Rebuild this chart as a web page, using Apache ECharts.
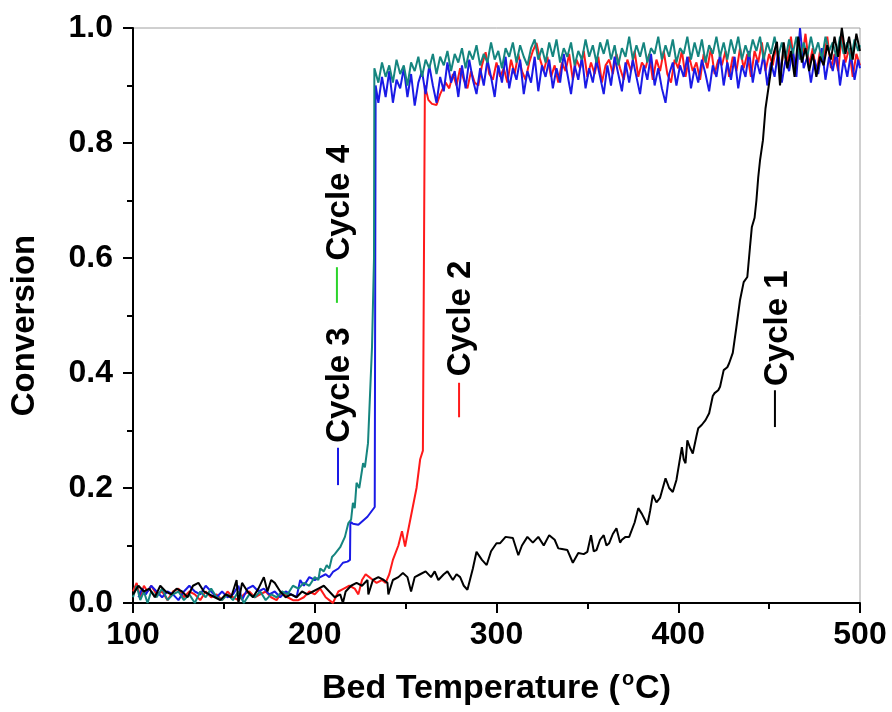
<!DOCTYPE html>
<html><head><meta charset="utf-8">
<script src="https://cdn.jsdelivr.net/npm/echarts@6/dist/echarts.min.js"></script>
<style>html,body{margin:0;padding:0;background:#fff}#c{width:892px;height:712px}</style>
</head><body><div id="c"></div>
<script>
// Bed temperature (°C) vs conversion, per cycle: [temperature, conversion]
const cycle1 = [
[100,0.015],[103,0.03],[106,0.02],[109,0.025],[112,0.01],[115,0.03],[118,0.02],[121,0.015],[124,0.025],[127,0.02],
[130,0.01],[133,0.03],[136,0.035],[139,0.02],[142,0.015],[145,0.01],[148,0.005],[151,0.015],[154,0.01],[157,0.04],
[158,0.0],[160,0.035],[163,0.02],[166,0.01],[169,0.025],[172,0.045],[174,0.02],[176,0.04],[178,0.035],[181,0.02],
[184,0.01],[187,0.015],[190,0.01],[193,0.02],[196,0.015],[199,0.02],[202,0.025],[205,0.03],[208,0.02],[211,0.01],
[214,0.015],[215.5,0.0],[217,0.02],[220,0.03],[223,0.035],[226,0.03],[229,0.04],[229.5,0.015],[232,0.04],[235,0.045],
[238,0.04],[240,0.035],[240.5,0.015],[243,0.04],[246,0.045],[248.5,0.052],[251,0.045],[253,0.02],[255,0.045],[258,0.05],
[261,0.055],[264,0.045],[266,0.055],[268,0.04],[271,0.05],[273,0.055],[276,0.04],[278,0.05],[280,0.045],[282,0.03],
[284,0.023],[287,0.06],[289,0.089],[292,0.075],[294.6,0.066],[297,0.09],[300,0.104],[302,0.104],[305,0.115],[309,0.113],
[312,0.083],[314,0.1],[317,0.115],[320,0.105],[323,0.115],[326,0.1],[329,0.118],[332,0.11],[334,0.095],[336,0.094],
[339,0.092],[342,0.07],[345,0.087],[348,0.085],[350,0.089],[352,0.118],[353.5,0.09],[355,0.092],[357,0.11],[359,0.118],
[360.5,0.1],[362,0.104],[364,0.12],[366,0.13],[368,0.105],[369,0.11],[371,0.115],[373,0.115],[376,0.14],[378,0.165],
[380,0.155],[383,0.136],[384.5,0.16],[386,0.188],[388,0.175],[390,0.183],[393,0.217],[395,0.2],[397,0.193],[399,0.214],
[402,0.271],[403,0.25],[404,0.243],[405,0.283],[406.5,0.27],[408,0.26],[410,0.29],[411,0.304],[413,0.31],[415,0.318],
[417,0.33],[419,0.36],[420,0.365],[422,0.37],[423,0.376],[425,0.405],[427,0.41],[428,0.417],[430,0.435],[432,0.48],
[434,0.527],[436,0.558],[438,0.567],[439.5,0.62],[440.5,0.654],[442,0.67],[443,0.70],[444,0.74],[445,0.77],[446.6,0.805],
[448,0.86],[450.5,0.915],[452,0.95],[454.3,0.976],[456,0.90],[458,0.975],[460,0.93],[462,0.96],[464,0.915],[466,0.985],
[468,0.94],[470,0.965],[472,0.925],[474,0.955],[476,0.915],[478,0.95],[480,0.935],[482,0.97],[484,0.945],[486,0.985],
[488,0.95],[490,1.0],[492,0.955],[494,0.985],[496,0.945],[498,0.99],[500,0.96]
];
const cycle2 = [
[100,0.02],[102,0.035],[104,0.01],[106,0.03],[108,0.02],[110,0.03],[113,0.015],[116,0.02],[119,0.005],[122,0.02],
[125,0.025],[128,0.01],[131,0.02],[134,0.015],[137,0.005],[140,0.02],[143,0.01],[146,0.015],[149,0.005],[152,0.02],
[155,0.01],[158,0.005],[161,0.015],[164,0.02],[167,0.01],[170,0.015],[173,0.02],[176,0.01],[179,0.005],[182,0.02],
[185,0.01],[188,0.005],[191,0.005],[194,0.01],[197,0.02],[200,0.015],[203,0.025],[206,0.01],[208,0.005],[210,0.0],
[213,0.02],[216,0.025],[219,0.03],[222,0.025],[224,0.015],[226,0.04],[228,0.05],[230,0.045],[232,0.04],[234,0.035],
[237,0.04],[239,0.035],[241,0.05],[243,0.075],[246,0.1],[248,0.125],[249.7,0.098],[251,0.12],[253.5,0.16],[256,0.2],
[258,0.25],[259.5,0.265],[260.6,0.9],[262.5,0.875],[264.5,0.868],[267,0.866],[269,0.885],[272,0.905],[274,0.895],[276,0.92],
[278,0.9],[280,0.93],[282,0.91],[284,0.895],[286,0.925],[288,0.905],[290,0.9],[292,0.935],[294,0.958],[296,0.92],
[298,0.91],[300,0.94],[302,0.915],[304,0.93],[306,0.905],[308,0.945],[310,0.92],[312,0.955],[314,0.925],[316,0.91],
[318,0.94],[320,0.96],[322,0.974],[324,0.945],[326,0.925],[328,0.95],[330,0.915],[332,0.935],[334,0.905],[336,0.94],
[338,0.925],[340,0.955],[342,0.91],[344,0.945],[346,0.93],[348,0.96],[350,0.915],[352,0.94],[354,0.92],[356,0.95],
[358,0.905],[360,0.935],[362,0.945],[364,0.92],[366,0.955],[368,0.93],[370,0.91],[372,0.945],[374,0.925],[376,0.96],
[378,0.915],[380,0.94],[382,0.93],[384,0.955],[386,0.91],[388,0.945],[390,0.925],[392,0.96],[394,0.92],[396,0.905],
[398,0.945],[400,0.93],[402,0.96],[404,0.915],[406,0.95],[408,0.925],[410,0.94],[412,0.91],[414,0.955],[416,0.93],
[418,0.965],[420,0.92],[422,0.945],[424,0.935],[426,0.96],[428,0.915],[430,0.95],[432,0.925],[434,0.965],[436,0.93],
[438,0.955],[440,0.915],[442,0.96],[444,0.94],[446,0.975],[448,0.925],[450,0.955],[452,0.935],[454,0.97],[456,0.92],
[458,0.96],[460,0.94],[462,0.985],[464,0.93],[466,0.96],[468,0.945],[470,0.99],[472,0.935],[474,0.965],[476,0.92],
[478,0.96],[480,0.945],[482,0.985],[484,0.93],[486,0.955],[488,0.925],[490,0.99],[492,0.94],[494,0.965],[496,0.915],
[498,0.955],[500,0.935]
];
const cycle3 = [
[103,0.01],[105,0.025],[107,0.015],[110,0.03],[113,0.02],[116,0.01],[119,0.02],[122,0.015],[125,0.005],[128,0.02],
[131,0.03],[134,0.02],[137,0.015],[140,0.03],[143,0.02],[146,0.01],[149,0.02],[152,0.01],[155,0.015],[158,0.03],
[160,0.005],[163,0.025],[166,0.03],[169,0.02],[172,0.025],[175,0.015],[178,0.02],[181,0.01],[184,0.02],[187,0.015],
[190,0.01],[192,0.04],[194,0.03],[197,0.045],[200,0.04],[203,0.045],[206,0.05],[208,0.045],[210,0.054],[213,0.06],
[215.5,0.07],[218,0.072],[219.4,0.075],[219.6,0.141],[221,0.138],[224,0.136],[229,0.15],[233,0.167],[233.5,0.9],[235,0.87],
[237,0.915],[239,0.88],[241,0.925],[243,0.87],[245,0.91],[247,0.895],[249,0.93],[251,0.88],[253,0.92],[255,0.865],
[257,0.905],[259,0.925],[261,0.885],[263,0.935],[265,0.9],[267,0.87],[269,0.915],[271,0.89],[273,0.94],[275,0.905],
[277,0.925],[279,0.88],[281,0.935],[283,0.895],[285,0.945],[287,0.91],[289,0.885],[291,0.93],[293,0.9],[295,0.945],
[297,0.915],[299,0.88],[301,0.935],[303,0.905],[305,0.95],[307,0.895],[309,0.93],[311,0.91],[313,0.945],[315,0.885],
[317,0.925],[319,0.905],[321,0.95],[323,0.89],[325,0.935],[327,0.915],[329,0.945],[331,0.895],[333,0.93],[335,0.905],
[337,0.955],[339,0.92],[341,0.885],[343,0.935],[345,0.91],[347,0.95],[349,0.895],[351,0.93],[353,0.905],[355,0.945],
[357,0.915],[359,0.885],[361,0.935],[363,0.9],[365,0.95],[367,0.92],[369,0.89],[371,0.94],[373,0.905],[375,0.945],
[377,0.915],[379,0.885],[381,0.935],[383,0.91],[385,0.955],[387,0.9],[389,0.93],[391,0.895],[393,0.87],[395,0.92],
[397,0.94],[399,0.9],[401,0.935],[403,0.915],[405,0.95],[407,0.895],[409,0.93],[411,0.905],[413,0.945],[415,0.92],
[417,0.89],[419,0.935],[421,0.915],[423,0.955],[425,0.9],[427,0.94],[429,0.91],[431,0.95],[433,0.895],[435,0.935],
[437,0.915],[439,0.96],[441,0.905],[443,0.945],[445,0.92],[447,0.955],[449,0.9],[451,0.94],[453,0.915],[455,0.96],
[457,0.905],[459,0.945],[461,0.925],[463,0.965],[465,0.915],[467,1.0],[469,0.93],[471,0.95],[473,0.905],[475,0.945],
[477,0.92],[479,0.965],[481,0.91],[483,0.95],[485,0.925],[487,0.96],[489,0.9],[491,0.945],[493,0.915],[495,0.955],
[497,0.91],[499,0.945],[500,0.93]
];
const cycle4 = [
[100,0.01],[102,0.03],[104,0.005],[106,0.02],[108,0.0],[110,0.02],[113,0.01],[116,0.025],[119,0.005],[122,0.015],
[125,0.02],[128,0.005],[131,0.015],[134,0.0],[137,0.02],[140,0.01],[143,0.025],[146,0.01],[149,0.005],[152,0.015],
[155,0.005],[158,0.02],[161,0.0],[164,0.015],[167,0.01],[170,0.02],[173,0.005],[176,0.015],[179,0.01],[182,0.02],
[185,0.015],[188,0.03],[191,0.025],[194,0.035],[197,0.03],[200,0.045],[202,0.04],[203,0.06],[205,0.055],[206.6,0.066],
[208,0.06],[209.5,0.08],[211,0.085],[214,0.097],[216.6,0.115],[218.5,0.139],[220,0.145],[221,0.174],[222,0.165],[223,0.209],
[224.5,0.2],[226.6,0.243],[227.6,0.236],[229.3,0.278],[231.5,0.445],[232.6,0.6],[232.8,0.93],[235,0.905],[237,0.94],[239,0.915],
[241,0.935],[243,0.905],[245,0.945],[247,0.92],[249,0.935],[251,0.9],[253,0.94],[255,0.925],[257,0.95],[259,0.915],
[261,0.945],[263,0.93],[265,0.955],[267,0.92],[269,0.95],[271,0.935],[273,0.96],[275,0.925],[277,0.955],[279,0.94],
[281,0.965],[283,0.93],[285,0.96],[287,0.945],[289,0.97],[291,0.935],[293,0.955],[295,0.94],[297,0.975],[299,0.945],
[301,0.96],[303,0.93],[305,0.965],[307,0.95],[309,0.975],[311,0.94],[313,0.97],[315,0.95],[317,0.935],[319,0.965],
[321,0.98],[323,0.945],[325,0.965],[327,0.94],[329,0.975],[331,0.95],[333,0.98],[335,0.94],[337,0.965],[339,0.95],
[341,0.975],[343,0.935],[345,0.96],[347,0.945],[349,0.98],[351,0.95],[353,0.97],[355,0.94],[357,0.975],[359,0.955],
[361,0.98],[363,0.945],[365,0.97],[367,0.935],[369,0.965],[371,0.95],[373,0.985],[375,0.945],[377,0.97],[379,0.95],
[381,0.975],[383,0.94],[385,0.965],[387,0.955],[389,0.985],[391,0.945],[393,0.97],[395,0.95],[397,0.98],[399,0.94],
[401,0.965],[403,0.955],[405,0.985],[407,0.945],[409,0.975],[411,0.95],[413,0.98],[415,0.94],[417,0.97],[419,0.955],
[421,0.985],[423,0.95],[425,0.975],[427,0.945],[429,0.98],[431,0.955],[433,0.985],[435,0.945],[437,0.97],[439,0.95],
[441,0.98],[443,0.96],[445,0.985],[447,0.945],[449,0.975],[451,0.955],[453,0.985],[455,0.95],[457,0.975],[459,0.945],
[461,0.98],[463,0.955],[465,0.985],[467,0.945],[469,0.975],[471,0.95],[473,0.985],[475,0.955],[477,0.975],[479,0.945],
[481,0.985],[483,0.96],[485,0.975],[487,0.95],[489,0.985],[491,0.955],[493,0.975],[495,0.945],[497,0.98],[499,0.96],
[500,0.97]
];
const xTicks = [100, 200, 300, 400, 500];
const yTicks = [0.0, 0.2, 0.4, 0.6, 0.8, 1.0];
const seriesNames = ['Cycle 1', 'Cycle 2', 'Cycle 3', 'Cycle 4'];

// annotation placement (data coordinates)
const labelCfg = [
  {name:'Cycle 1', seg:[[453.2,0.306],[453.2,0.370]], text:[455.0,0.478], segColor:'#000000'},
  {name:'Cycle 2', seg:[[279.4,0.323],[279.4,0.383]], text:[280.5,0.495], segColor:'#ff1a1a'},
  {name:'Cycle 3', seg:[[212.8,0.205],[212.8,0.270]], text:[213.9,0.379], segColor:'#1a1ae6'},
  {name:'Cycle 4', seg:[[212.2,0.522],[212.2,0.584]], text:[213.9,0.696], segColor:'#2ad42a'}
];
const colors = {'Cycle 1':'#000000','Cycle 2':'#ff1a1a','Cycle 3':'#1a1ae6','Cycle 4':'#15857f'};
const dataMap = {'Cycle 1':cycle1,'Cycle 2':cycle2,'Cycle 3':cycle3,'Cycle 4':cycle4};
const FONT = '"Liberation Sans", Arial, sans-serif';

const chart = echarts.init(document.getElementById('c'), null, {renderer:'canvas'});
const drawOrder = ['Cycle 2','Cycle 3','Cycle 4','Cycle 1'];
const series = drawOrder.map(n => ({
  name:n, type:'line', data:dataMap[n], showSymbol:false, symbol:'none',
  lineStyle:{color:colors[n], width:2}, itemStyle:{color:colors[n]}, animation:false, silent:true
}));
labelCfg.forEach(l => series.push({
  type:'line', data:l.seg, showSymbol:false, symbol:'none',
  lineStyle:{color:l.segColor, width:2}, animation:false, silent:true
}));

const axisCommon = {
  axisLine:{show:true, onZero:false, lineStyle:{color:'#000', width:2}},
  axisTick:{show:true, inside:false, length:10, lineStyle:{color:'#000', width:2}},
  minorTick:{show:true, splitNumber:2, length:6, lineStyle:{color:'#000', width:2}},
  splitLine:{show:false}, minorSplitLine:{show:false}
};

chart.setOption({
  backgroundColor:'#fff',
  animation:false,
  grid:{left:133, right:32, top:28, bottom:109, show:true, borderColor:'#a0a0a0', borderWidth:1, backgroundColor:'transparent'},
  xAxis:Object.assign({
    type:'value', min:xTicks[0], max:xTicks[xTicks.length-1], interval:xTicks[1]-xTicks[0],
    axisLabel:{fontSize:32, fontWeight:'bold', color:'#000', fontFamily:FONT, margin:16},
    name:'{a|Bed Temperature (}{s|o}{a|C)}', nameLocation:'middle', nameGap:66,
    nameTextStyle:{rich:{
      a:{fontSize:34, fontWeight:'bold', color:'#000', fontFamily:FONT, lineHeight:40},
      s:{fontSize:20, fontWeight:'bold', color:'#000', fontFamily:FONT, verticalAlign:'top', lineHeight:40, padding:[0,1,14,2]}
    }}
  }, axisCommon),
  yAxis:Object.assign({
    type:'value', min:yTicks[0], max:yTicks[yTicks.length-1], interval:yTicks[1]-yTicks[0],
    axisLabel:{fontSize:32, fontWeight:'bold', color:'#000', fontFamily:FONT, margin:20, formatter:v => v.toFixed(1)},
    name:'Conversion', nameLocation:'middle', nameGap:92,
    nameTextStyle:{fontSize:33, fontWeight:'bold', color:'#000', fontFamily:FONT, padding:[0,20,0,0]}
  }, axisCommon),
  series:series
});

const graphics = labelCfg.map(l => {
  const p = chart.convertToPixel({xAxisIndex:0, yAxisIndex:0}, l.text);
  return {type:'text', x:p[0], y:p[1], rotation:Math.PI/2, silent:true,
    style:{text:l.name, fill:'#000', font:'bold 33px ' + FONT, align:'center', verticalAlign:'middle'}};
});
chart.setOption({graphic:graphics});
</script>
</body></html>
